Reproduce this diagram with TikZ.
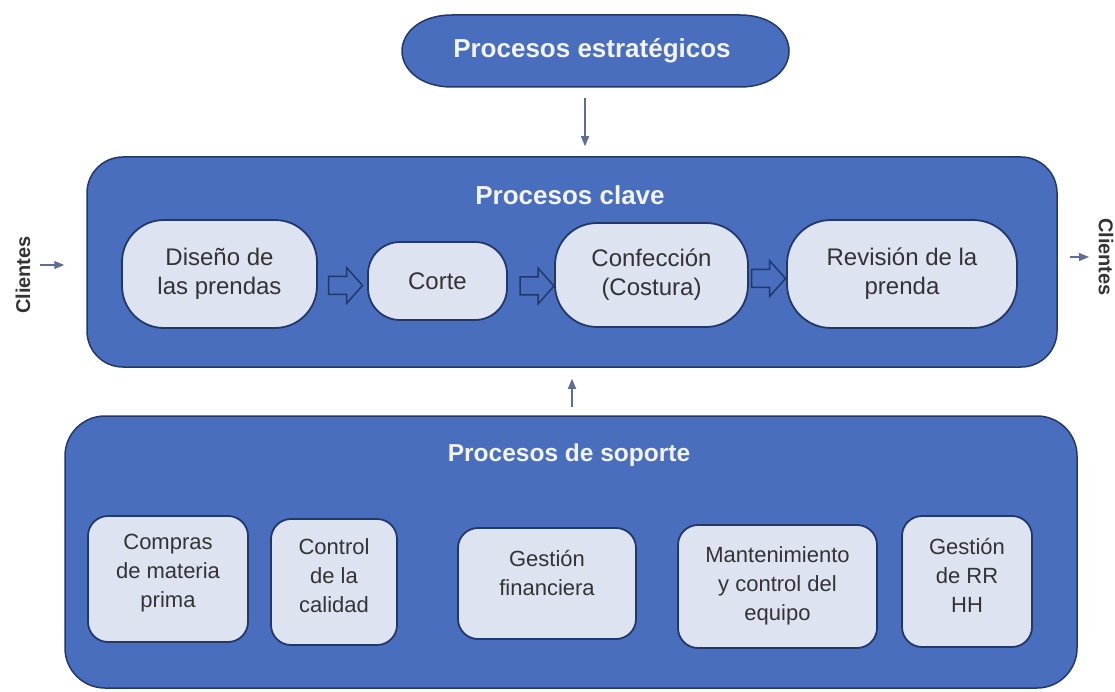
\documentclass[tikz,border=0pt]{standalone}
\usepackage{fontspec}
\setmainfont{Liberation Sans}
\usetikzlibrary{calc,arrows.meta}
\definecolor{mainblue}{HTML}{4A6EBE}
\definecolor{navy}{HTML}{22386A}
\definecolor{lightfill}{HTML}{DDE3F1}
\definecolor{darktext}{HTML}{333333}
\definecolor{titlewhite}{HTML}{F2F4FA}
\definecolor{arrowgray}{HTML}{5F6C98}
\tikzset{
  bigbox/.style={draw=navy, line width=1.5pt, fill=mainblue, rounded corners=36pt, inner sep=0pt},
  keybox/.style={draw=navy, line width=1.8pt, fill=lightfill, rounded corners=#1, inner sep=0pt,
    text=darktext, font=\fontsize{24}{29}\selectfont, align=center},
  keybox/.default=40pt,
  supbox/.style={draw=navy, line width=1.8pt, fill=lightfill, rounded corners=20pt, inner sep=0pt},
  suptext/.style={text=darktext, font=\fontsize{22}{29}\selectfont, align=center, inner sep=0pt},
  titletext/.style={text=titlewhite, font=\bfseries\fontsize{26}{30}\selectfont, inner sep=0pt},
  thinarr/.style={draw=arrowgray, line width=1.2pt, -{Triangle[length=10pt,width=8pt]}},
  clientes/.style={font=\bfseries\fontsize{20}{24}\selectfont, text=darktext, inner sep=0pt},
  ovalstyle/.style={draw=navy, line width=1.5pt, fill=mainblue},
  hollowarr/.pic={\draw[draw=navy, line width=1.5pt, fill=mainblue, line join=miter]
    (-17,-9) -- (1,-9) -- (1,-18) -- (17,0) -- (1,18) -- (1,9) -- (-17,9) -- cycle;}
}
\begin{document}
\begin{tikzpicture}[x=1pt,y=-1pt]
\useasboundingbox[fill=white] (0,0) rectangle (1115,692);

% strategic oval
\draw[ovalstyle] (452,15) -- (740,15) .. controls (772,15) and (789,33) .. (789,51)
  .. controls (789,69) and (772,87) .. (740,87) -- (452,87)
  .. controls (420,87) and (402,69) .. (402,51) .. controls (402,33) and (420,15) .. (452,15) -- cycle;
\node[titletext, minimum width=388pt, minimum height=72pt] (est) at (592,51) {Procesos estratégicos};

% key processes
\node[bigbox, minimum width=970pt, minimum height=210pt] (key) at (572,262) {};
\node[titletext] (keyT) at (570,195) {Procesos clave};
\node[keybox=42pt, minimum width=195pt, minimum height=108pt] (dis) at (219.5,274) {Diseño de\\las prendas};
\node[keybox=32pt, minimum width=139pt, minimum height=78pt] (cor) at (437.5,281) {Corte};
\node[keybox=42pt, minimum width=193pt, minimum height=104pt] (con) at (651.5,275) {Confección\\(Costura)};
\node[keybox=44pt, minimum width=230pt, minimum height=108pt] (rev) at (902,274) {Revisión de la\\prenda};

\pic at ($(dis.east)!0.5!(cor.west)+(3,8)$) {hollowarr};
\pic at ($(cor.east)!0.5!(con.west)+(6,8)$) {hollowarr};
\pic at ($(con.east)!0.5!(rev.west)+(1,4)$) {hollowarr};

% support processes
\node[bigbox, rounded corners=40pt, minimum width=1012pt, minimum height=272pt] (sup) at (571,552) {};
\node[titletext, font=\bfseries\fontsize{24.5}{30}\selectfont] (supT) at (569,455) {Procesos de soporte};

\node[supbox, minimum width=160pt, minimum height=126pt] (comp) at (168,579) {};
\node[suptext] (compT) at ([yshift=6pt]comp.center) {Compras\\de materia\\prima};
\node[supbox, minimum width=126pt, minimum height=126pt] (ctrl) at (334,582) {};
\node[suptext] (ctrlT) at ([yshift=6pt]ctrl.center) {Control\\de la\\calidad};
\node[supbox, minimum width=178pt, minimum height=111pt] (fin) at (547,583.5) {};
\node[suptext] (finT) at ([yshift=10pt]fin.center) {Gestión\\financiera};
\node[supbox, minimum width=199pt, minimum height=123pt] (man) at (777.5,586.5) {};
\node[suptext] (manT) at ([yshift=1pt]man.center) {Mantenimiento\\y control del\\equipo};
\node[supbox, minimum width=130pt, minimum height=131pt] (rrhh) at (967,581.5) {};
\node[suptext] (rrhhT) at ([yshift=6pt]rrhh.center) {Gestión\\de RR\\HH};

% clientes
\node[clientes, rotate=90] (cL) at (23,275) {Clientes};
\node[clientes, rotate=-90] (cR) at (1106,257) {Clientes};

% connectors
\coordinate (ta) at ([xshift=-7pt]est.south);
\draw[thinarr, shorten <=11pt, shorten >=10pt] (ta) -- (ta |- key.north);
\draw[thinarr, shorten <=8pt, shorten >=11pt] (key.south |- sup.north) -- (key.south);
\coordinate (la) at (40,265);
\draw[thinarr, shorten >=22pt] (la) -- (la -| key.west);
\coordinate (ra) at (1089,257);
\draw[thinarr, shorten <=12pt] (key.east |- ra) -- (ra);
\end{tikzpicture}
\end{document}
